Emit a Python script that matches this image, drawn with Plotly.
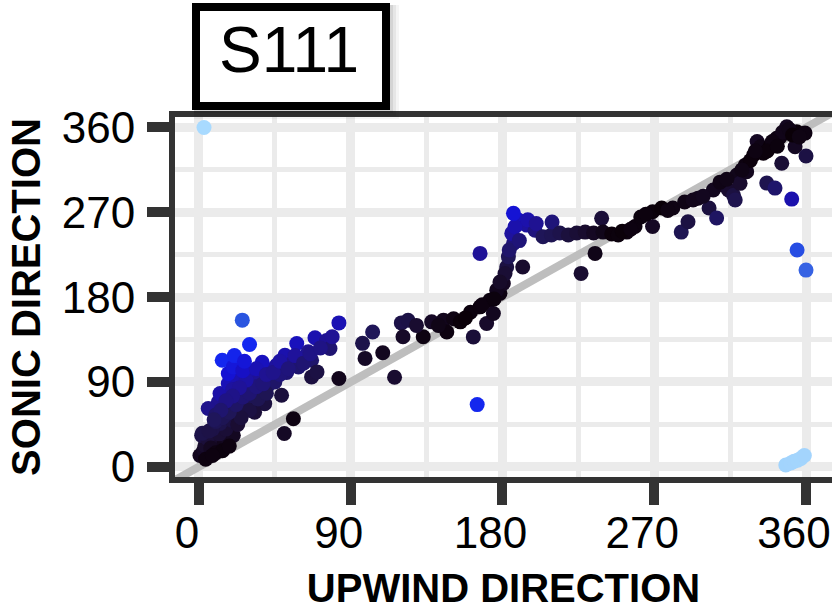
import plotly.graph_objects as go

# ---- data ----
upwind = [
    # lower-left cluster
    0.6, 2, 4, 6.5, 3, 3.6, 1.6, 9.5, 13.5, 11.5, 8, 5, 2, 15, 17, 20.4, 12, 16, 12.5, 19.4,
    23, 16.4, 21.4, 15.4, 11.5, 5.5, 12.5, 17.4, 22.4, 23.3, 29, 27, 35, 41, 39, 33, 25, 27,
    23.3, 17.4, 32, 38, 42, 46, 49, 51, 55, 59, 61, 58, 64.8, 66.8, 66.8, 70, 68.8, 75.7, 77.7,
    83, 83, 56, 50.6, 13.8, 20.4, 37.5, 30, 25.7, 31, 36, 44, 28, 20, 45, 52, 48, 30, 25, 10,
    8, 18, 35, 40,
    7, 10, 14, 18, 6, 10, 14, 18, 22, 26, 30, 34, 38, 28, 24, 20, 16, 13, 9, 26, 34, 40, 44,
    48, 53, 57, 62, 66, 72, 79, 21, 27, 4, 8,
    # middle section
    97, 103, 98.5, 109, 116, 120, 124, 121, 133, 129, 138, 145, 151, 155, 147, 161, 162.7,
    166.7, 170.6, 172.6, 174.6, 178.5, 180.5, 176.6, 165, 166.7, 142, 158, 168, 175, 182.5,
    181.5, 178.5, 183.5, 186.5, 185.5, 189.4, 194.4, 199.3, 187.4, 186.5, 192, 184, 190, 195,
    200, 204, 209, 209.4, 214, 219, 224, 226.6, 229, 234, 234.9, 238.8, 239.6, 244.8, 248.6,
    253.7, 258.6, 251, 256,
    # right section
    269, 274.4, 269, 281, 288, 286, 290, 296, 302.5, 307, 305, 311, 314, 317, 318, 319, 320.9,
    324, 324.8, 329, 331, 333, 334.7, 336.7, 338.7, 341.6, 342.6, 344.6, 345.6, 348.6, 351.5,
    353.5, 354.5, 354.7, 359.4, 360, 360, 346, 350, 352, 340, 337, 327, 262, 265, 278, 293,
    299, 309, 313, 322, 330, 343, 356,
    # wrap-around points
    3, 348, 351, 353, 355, 357, 359,
]
sonic = [
    # lower-left cluster
    12, 14, 10, 14, 18, 22.8, 33.4, 21, 21, 28, 26, 30, 35.5, 25, 30, 33.4, 35, 40, 45.9, 49.4,
    45, 56.5, 60, 63.5, 68.8, 61.8, 77.7, 88.3, 76, 70.6, 72.4, 65, 81, 86.5, 67, 58, 95.4, 86.5,
    91.8, 99, 100.7, 92, 102.5, 107.8, 76, 118.4, 109.6, 106, 115, 130.8, 122, 113, 95.4, 100.7,
    137, 134, 125.5, 152.7, 93.7, 51, 35.3, 113, 106, 111, 129.8, 155.6, 88, 95, 95, 80, 82, 90,
    100, 98, 60, 52, 55, 40, 68, 72, 78,
    20, 15, 17, 22, 38, 48, 52, 58, 66, 74, 78, 85, 88, 92, 84, 75, 70, 60, 50, 102, 104, 98,
    100, 112, 104, 118, 110, 120, 126, 138, 118, 112, 8, 12,
    # middle section
    131, 143, 115, 121, 95, 152.7, 155.5, 138, 138, 150, 153.8, 155.6, 157, 153.8, 143, 164,
    137.8, 169.7, 152, 176.8, 162.7, 184, 194.5, 187.4, 66, 226.4, 150, 158, 172, 178, 212,
    205, 196, 222.8, 237, 247.6, 261.8, 256.4, 251, 254.6, 268.9, 212, 230, 240, 262, 258, 244,
    246, 259.6, 248, 246, 248, 205.2, 249, 248, 226.4, 263.6, 249, 247, 246, 249, 255, 250, 252,
    # right section
    270.6, 274.5, 255, 274.5, 281, 249, 260, 285, 274.5, 264, 293.6, 299, 293.6, 288, 283,
    309.6, 300.7, 320, 313, 331, 345, 339.6, 332.6, 301, 339.6, 295.7, 348.5, 350, 322, 360.8,
    284, 339.6, 355.5, 230, 354, 329.7, 208.7, 355, 358, 352, 345, 335, 325, 265, 268, 272,
    283, 287, 302, 305, 315, 335, 340, 350,
    # wrap-around points
    360, 2, 4, 6, 7, 9, 12,
]

tick_vals = [0, 90, 180, 270, 360]
tick_text = ["0", "90", "180", "270", "360"]
minor_vals = [45, 135, 225, 315]
x_range = [-14.2, 375.4]
y_range = [-10.8, 371.1]

# colour = absolute deviation from the 1:1 line
deviation = [abs(s - u) for u, s in zip(upwind, sonic)]
colorscale = [
    [0.0, "#0a0008"],
    [20 / 360, "#190c2e"],
    [40 / 360, "#1f1658"],
    [60 / 360, "#1f1298"],
    [80 / 360, "#1510d0"],
    [100 / 360, "#1428f0"],
    [130 / 360, "#2a55e0"],
    [1.0, "#aadcff"],
]

FONT = "Liberation Sans, Arial, sans-serif"
DARK = "#333333"
GRID = "#ebebeb"

fig = go.Figure()
fig.add_trace(go.Scatter(
    x=[x_range[0] - 10, x_range[1] + 10], y=[x_range[0] - 10, x_range[1] + 10],
    mode="lines", line=dict(color="#bebebe", width=8), hoverinfo="skip", showlegend=False,
))
fig.add_trace(go.Scatter(
    x=upwind, y=sonic, mode="markers",
    marker=dict(size=15, color=deviation, colorscale=colorscale, cmin=0, cmax=360,
                line=dict(width=0), opacity=1),
    showlegend=False,
))

axis_common = dict(
    tickvals=tick_vals, ticktext=tick_text,
    ticks="outside", ticklen=22, tickwidth=10, tickcolor=DARK,
    showline=True, linewidth=6, linecolor=DARK,
    showgrid=True, gridcolor=GRID, gridwidth=9,
    minor=dict(tickvals=minor_vals, showgrid=True, gridcolor=GRID, gridwidth=5),
    zeroline=False,
    tickfont=dict(family=FONT, size=44, color="black"),
)

fig.update_layout(
    width=832, height=610,
    margin=dict(l=175, r=0, t=117, b=133),
    plot_bgcolor="white", paper_bgcolor="white",
    xaxis=dict(range=x_range, mirror=True, ticklabelshift=-12, ticklabelstandoff=-10,
               ticklabeloverflow="allow",
               title=dict(text="UPWIND DIRECTION", standoff=26,
                          font=dict(family=FONT, size=40, color="black", weight="bold")),
               **axis_common),
    yaxis=dict(range=y_range, ticklabelstandoff=3,
               title=dict(text="SONIC DIRECTION", standoff=11,
                          font=dict(family=FONT, size=40, color="black", weight="bold")),
               **axis_common),
)

# strip-like title box with a soft shadow
pw = 832 - 175
ph = 476.7 - 117


def px_x(p):
    return (p - 175) / pw


def px_y(p):
    return (476.7 - p) / ph


for k, a in [(9, 0.04), (6, 0.06), (3, 0.08)]:
    fig.add_shape(type="rect", xref="paper", yref="paper",
                  x0=px_x(192 + 2), x1=px_x(390 + k), y0=px_y(110 + k), y1=px_y(3 + 2),
                  line=dict(width=0), fillcolor=f"rgba(0,0,0,{a})", layer="above")
fig.add_shape(type="rect", xref="paper", yref="paper",
              x0=px_x(196), x1=px_x(386), y0=px_y(106), y1=px_y(7),
              line=dict(color="black", width=8), fillcolor="white", layer="above")
fig.add_annotation(xref="paper", yref="paper", x=px_x(289), y=px_y(50),
                   text="S111", showarrow=False, xanchor="center", yanchor="middle",
                   font=dict(family=FONT, size=64, color="black"))

fig.write_html("out.html")
